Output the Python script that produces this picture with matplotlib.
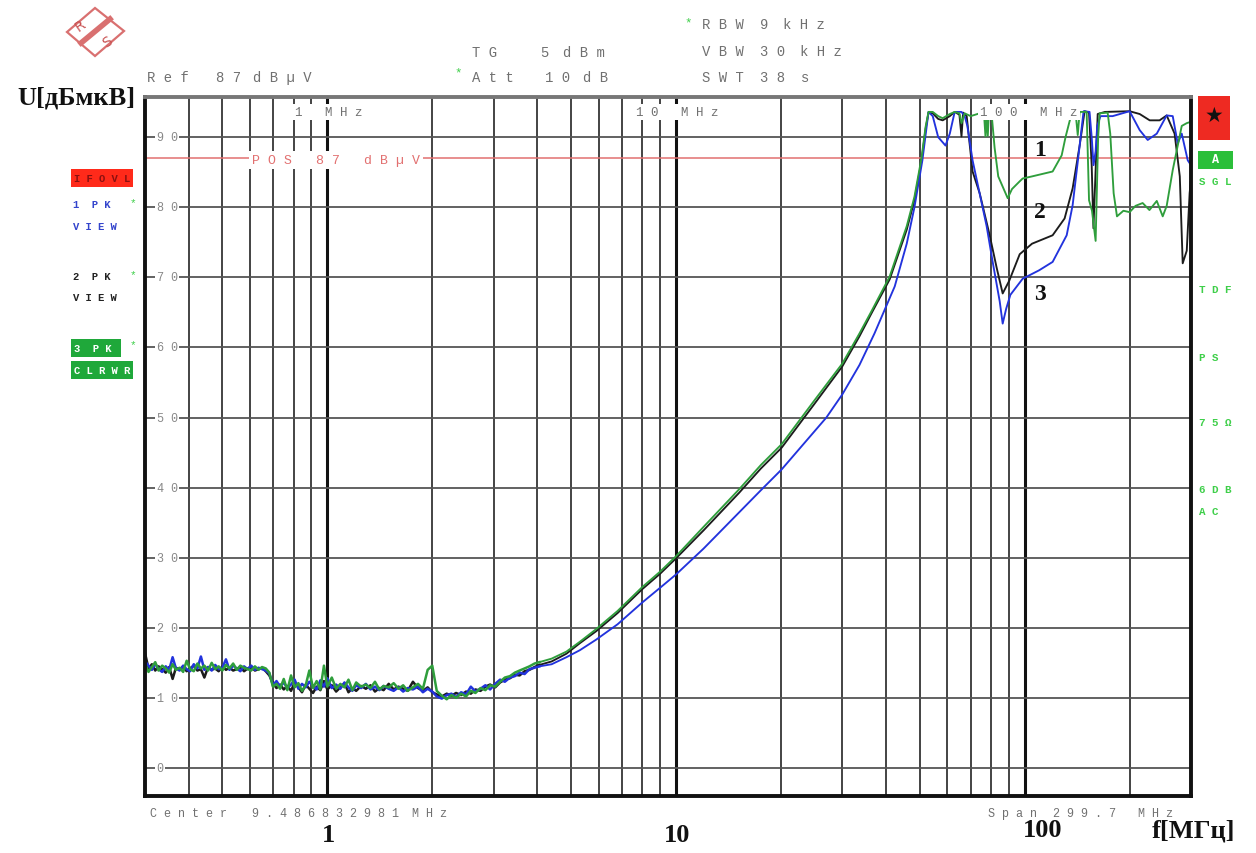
import matplotlib
matplotlib.use('Agg')
import matplotlib.pyplot as plt
from matplotlib.patches import Polygon, Rectangle

W, H = 1256, 854

# ---- low-frequency sweep (MHz), noisy floor ----
freq_lo = [0.300, 0.307, 0.314, 0.321, 0.328, 0.336, 0.344, 0.352, 0.360, 0.368,
           0.377, 0.386, 0.395, 0.404, 0.414, 0.424, 0.434, 0.444, 0.455, 0.466,
           0.477, 0.488, 0.500, 0.512, 0.524, 0.537, 0.550, 0.563, 0.577, 0.591,
           0.605, 0.620, 0.635, 0.650, 0.666, 0.682, 0.698, 0.715, 0.732, 0.750,
           0.768, 0.787, 0.806, 0.826, 0.846, 0.867, 0.888, 0.910, 0.932, 0.955,
           0.978, 1.00, 1.03, 1.06, 1.09, 1.12, 1.15, 1.18, 1.21, 1.25,
           1.29, 1.33, 1.37, 1.41, 1.45, 1.50, 1.55, 1.60, 1.65, 1.70,
           1.76, 1.82, 1.88, 1.94, 2.00, 2.06, 2.13, 2.20, 2.27, 2.34,
           2.42, 2.50, 2.58, 2.66, 2.75, 2.84, 2.93, 3.03, 3.13, 3.23,
           3.34, 3.45, 3.56, 3.68, 3.80, 3.93, 4.06]

blue_lo = [15.2, 14.6, 14.0, 14.9, 14.1, 13.7, 14.5, 14.0, 15.8, 14.2,
           13.9, 14.6, 14.1, 13.8, 14.8, 14.2, 15.9, 14.0, 14.4, 13.9,
           14.7, 14.1, 14.3, 15.5, 14.0, 14.6, 14.2, 13.8, 14.5, 14.1,
           14.6, 14.0, 14.3, 14.1, 13.9, 13.5, 11.8, 12.4, 11.6, 12.2,
           11.4, 11.9, 12.6, 11.3, 12.0, 11.5, 12.3, 11.7, 11.2, 12.5,
           11.6, 12.8, 11.4, 11.9, 11.3, 12.2, 11.5, 11.0, 11.8, 11.4,
           12.0, 11.2, 11.6, 11.1, 11.7, 11.3, 11.0, 11.5, 10.9, 11.4,
           11.2, 11.6, 10.8, 11.3, 10.9, 10.2, 9.9, 10.4, 10.6, 10.1,
           10.8, 10.5, 11.6, 10.9, 11.3, 11.8, 11.2, 12.0, 12.6, 12.3,
           12.9, 13.1, 13.6, 13.4, 14.1, 14.3, 14.5]

black_lo = [16.4, 14.2, 14.8, 13.9, 14.5, 14.1, 13.6, 14.4, 12.7, 14.3,
            14.0, 14.5, 13.8, 14.2, 14.6, 13.9, 14.1, 12.9, 14.4, 14.0,
            14.2, 13.8, 14.5, 14.0, 14.3, 13.9, 14.1, 14.4, 13.8, 14.2,
            14.4, 13.9, 14.1, 14.3, 13.8, 13.2, 12.1, 11.4, 11.9, 11.2,
            11.7, 11.0, 12.2, 11.5, 10.8, 11.9, 11.3, 10.7, 11.6, 11.1,
            12.4, 11.2, 11.8, 10.9, 11.5, 12.1, 10.8, 11.4, 11.0, 11.7,
            11.3, 11.8, 10.9, 11.4, 11.1, 12.0, 11.2, 11.6, 11.3, 11.0,
            12.3, 11.4, 11.0, 11.5, 10.8, 10.5, 10.2, 10.6, 10.3, 10.7,
            10.4, 10.9, 10.6, 11.2, 11.0, 11.6, 11.9, 11.5, 12.2, 12.6,
            12.8, 13.3, 13.2, 13.8, 14.0, 14.4, 14.7]

green_lo = [14.9, 13.7, 14.4, 15.1, 13.9, 14.6, 14.2, 13.6, 14.8, 14.0,
            14.3, 13.7, 15.3, 14.1, 13.8, 14.9, 14.2, 14.6, 13.9, 15.0,
            14.1, 14.5, 13.9, 14.7, 14.2, 14.9, 14.0, 14.6, 14.3, 14.1,
            13.9, 14.5, 14.0, 14.4, 14.2, 13.6, 11.6, 12.0, 11.3, 12.7,
            11.1, 13.2, 11.5, 12.1, 11.0, 11.8, 13.9, 11.4, 12.4, 11.2,
            14.6, 11.6, 12.9, 11.3, 12.0, 11.5, 12.6, 11.1, 12.2, 11.6,
            11.9, 11.4, 12.3, 11.2, 11.7, 11.5, 12.1, 11.3, 11.8, 11.0,
            11.5, 12.0, 11.3, 14.0, 14.6, 11.0, 10.3, 9.8, 10.4, 10.0,
            10.6, 10.2, 11.0, 10.7, 11.4, 11.1, 11.8, 11.6, 12.3, 12.9,
            13.1, 13.6, 13.9, 14.2, 14.5, 14.9, 15.1]

# ---- upper part of each trace ----
green_f = [4.4, 4.85, 5.3, 5.9, 6.8, 8.0, 9.0, 10.0, 12.0, 15.2,
           17.5, 20.1, 25.0, 30.0, 33.6, 36.4, 41.0, 45.9, 48.3, 50.6,
           52.0, 53.0, 54.5, 56.5, 58.2, 61.0, 63.0, 65.0, 65.9, 67.3,
           70.0, 74.3, 76.5, 77.2, 77.8, 78.4, 79.0, 80.5, 82.0, 84.0,
           89.4, 92.0, 96.8, 98.7, 105, 120.3, 127.7, 131.0, 134.6, 137.3,
           140, 142, 143.8, 150.6, 153, 156, 159.8, 162.5, 164.1, 173,
           176, 180, 184, 192, 200, 208, 218, 228, 239.3, 248.9,
           255.5, 265.9, 282.2, 291.7, 300]
green_v = [15.6, 16.6, 18.0, 19.8, 22.4, 25.8, 28.0, 30.2, 34.4, 39.8,
           43.2, 46.2, 52.5, 57.7, 62.0, 65.2, 70.1, 77.3, 81.5, 87.0,
           91.5, 93.6, 93.6, 93.0, 92.7, 93.3, 93.6, 93.4, 92.0, 93.4,
           93.0, 93.4, 93.2, 90.1, 93.1, 90.2, 93.6, 93.0, 88.5, 84.4,
           81.3, 82.6, 83.7, 84.1, 84.4, 85.1, 87.4, 90.0, 92.3, 93.7,
           93.5, 90.3, 93.6, 93.6, 81.0, 79.5, 75.2, 90.0, 93.4, 93.5,
           90.5, 82.0, 78.7, 79.5, 79.3, 80.2, 80.6, 79.6, 80.9, 78.7,
           80.2, 85.3, 91.6, 92.0, 92.2]

black_f = [4.4, 4.85, 5.3, 5.9, 6.8, 8.0, 9.0, 10.0, 12.0, 15.2,
           17.5, 20.1, 25.0, 30.0, 33.6, 36.4, 41.0, 45.9, 48.3, 50.6,
           52.0, 53.0, 54.5, 56.5, 58.2, 61.0, 63.0, 65.0, 65.9, 66.6,
           68.2, 70.9, 74.3, 79.3, 83.1, 86.5, 90.3, 96.8, 105, 120.3,
           130.2, 137.3, 143.8, 148.6, 153, 155.7, 157.5, 160, 162, 170,
           200, 213.8, 228.4, 243.8, 255.5, 269.2, 278.6, 284, 291.7, 297.3,
           300]
black_v = [15.2, 16.3, 17.8, 19.5, 22.1, 25.5, 27.7, 29.9, 33.9, 39.3,
           42.7, 45.7, 52.0, 57.3, 61.6, 64.9, 69.7, 76.8, 81.0, 86.6,
           91.2, 93.5, 93.4, 92.6, 92.4, 93.0, 93.6, 93.2, 90.1, 93.5,
           93.0, 85.1, 82.0, 76.1, 71.4, 67.7, 69.5, 73.3, 74.8, 76.0,
           78.4, 82.7, 88.8, 93.7, 93.5, 86.0, 77.0, 86.0, 93.3, 93.6,
           93.7, 93.3, 92.4, 92.4, 93.1, 90.5, 84.4, 72.0, 73.8, 82.0,
           84.0]

blue_f = [4.4, 4.85, 5.3, 5.9, 6.8, 8.0, 9.0, 10.0, 12.0, 15.2,
          17.5, 20.1, 27.0, 30.0, 33.6, 37.1, 42.4, 45.9, 48.3, 50.9,
          52.2, 53.0, 54.5, 56.5, 59.3, 61.0, 63.0, 65.9, 67.3, 68.5,
          70.9, 77.8, 80.9, 84.8, 86.5, 88.5, 91.0, 98.7, 110, 120.3,
          132, 137.3, 143.8, 147.6, 153.5, 155.7, 157.6, 159.8, 161.5, 165,
          178.8, 200, 213.8, 225.4, 239.3, 255.5, 265.9, 274.8, 282.2, 293.6,
          300]
blue_v = [14.8, 15.8, 16.8, 18.3, 20.5, 23.6, 25.7, 27.6, 31.3, 36.5,
          39.6, 42.6, 50.0, 53.3, 57.5, 62.0, 68.7, 74.8, 80.0, 86.7,
          91.0, 93.6, 93.0, 90.0, 88.8, 90.5, 93.6, 93.6, 93.0, 91.6,
          86.7, 77.3, 72.3, 66.6, 63.4, 65.5, 67.5, 69.8, 71.0, 72.2,
          76.0, 80.3, 88.8, 93.7, 93.6, 90.0, 86.0, 88.0, 91.6, 93.0,
          93.0, 93.7, 91.0, 89.6, 90.5, 93.1, 93.0, 89.1, 90.5, 86.7,
          86.0]

y_grid = [0, 10, 20, 30, 40, 50, 60, 70, 80, 90]
ref_level = 87

MONO = 'Liberation Mono'
SERIF = 'Liberation Serif'
GRAY = '#707070'
LGREEN = '#3fcf4a'


def px(x, y):
    return x / W, 1 - y / H


def sp(s):
    return ' '.join(s)


def ftxt(x, y, s, **kw):
    kw.setdefault('va', 'center')
    fig.text(*px(x, y), s, **kw)


fig = plt.figure(figsize=(W / 100, H / 100), dpi=100)
ax = fig.add_axes([145 / W, 1 - 797 / H, (1191 - 145) / W, (797 - 97.5) / H])
ax.set_xscale('log')
ax.set_xlim(0.3, 300)
ax.set_ylim(-4, 95.8)
ax.tick_params(which='both', length=0, labelbottom=False, labelleft=False)
for s in ax.spines.values():
    s.set_linewidth(2.8)
    s.set_color('#111')
ax.spines['top'].set_color('#777')

# grid like the analyser screen
for dec in [0.1, 1, 10, 100]:
    for k in range(1, 10):
        f = k * dec
        if 0.3 < f < 300:
            ax.axvline(f, color='#111', lw=2.2 if k == 1 else 1.1, zorder=1)
for v in y_grid:
    ax.axhline(v, color='#555', lw=1.3, zorder=1)
    ax.text(0.011, v, sp(str(v)), transform=ax.get_yaxis_transform(),
            ha='left', va='center', fontsize=8.5, family=MONO, color='#888',
            bbox=dict(fc='white', ec='none', pad=1.0), zorder=3)

ax.axhline(ref_level, color='#e27070', lw=1.1, zorder=1.5)
ftxt(252, 161, sp('POS') + '   ' + sp('87') + '   ' + sp('dBµV'), family=MONO,
     fontsize=9.5, color='#e27070', bbox=dict(fc='white', ec='none', pad=2))

# traces: noisy floor drawn a bit heavier, like the dense sweep points
traces = [(black_lo, black_f, black_v, '#1c1c1c', 2.0),
          (blue_lo, blue_f, blue_v, '#2233dd', 2.1),
          (green_lo, green_f, green_v, '#2f9e3c', 2.2)]
for lo, hf, hv, c, z in traces:
    ax.plot(freq_lo, lo, color=c, lw=1.8, zorder=z)
    ax.plot(freq_lo[-1:] + hf, lo[-1:] + hv, color=c, lw=1.35, zorder=z)

# MHz markers at top of grid
for x0, t in [(295, sp('1') + '   ' + sp('MHz')), (636, sp('10') + '   ' + sp('MHz')),
              (980, sp('100') + '   ' + sp('MHz'))]:
    ftxt(x0, 113, t, family=MONO, fontsize=9, color=GRAY,
         bbox=dict(fc='white', ec='none', pad=1.5))

# header texts
hdr = dict(family=MONO, fontsize=10, color=GRAY)
ftxt(147, 78, sp('Ref'), **hdr)
ftxt(216, 78, sp('87'), **hdr)
ftxt(253, 78, sp('dBµV'), **hdr)
ftxt(472, 53, sp('TG'), **hdr)
ftxt(540, 53, '5', **hdr)
ftxt(563, 53, sp('dBm'), **hdr)
ftxt(472, 78, sp('Att'), **hdr)
ftxt(545, 78, sp('10'), **hdr)
ftxt(583, 78, sp('dB'), **hdr)
ftxt(702, 25, sp('RBW'), **hdr)
ftxt(760, 25, '9', **hdr)
ftxt(783, 25, sp('kHz'), **hdr)
ftxt(702, 52, sp('VBW'), **hdr)
ftxt(760, 52, sp('30'), **hdr)
ftxt(800, 52, sp('kHz'), **hdr)
ftxt(702, 78, sp('SWT'), **hdr)
ftxt(760, 78, sp('38'), **hdr)
ftxt(801, 78, 's', **hdr)
for x0, y0 in [(458, 73), (688, 23)]:
    ftxt(x0, y0, '*', family=MONO, fontsize=9, color=LGREEN, ha='center')

# footer texts
ftr = dict(family=MONO, fontsize=8.5, color=GRAY)
ftxt(150, 814, sp('Center'), **ftr)
ftxt(252, 814, sp('9.486832981'), **ftr)
ftxt(412, 814, sp('MHz'), **ftr)
ftxt(988, 814, sp('Span'), **ftr)
ftxt(1053, 814, sp('299.7'), **ftr)
ftxt(1138, 814, sp('MHz'), **ftr)

big = dict(family=SERIF, fontweight='bold', fontsize=19, color='#111')
ftxt(328, 836, '1', ha='center', **big)
ftxt(677, 836, '10', ha='center', **big)
ftxt(1043, 831, '100', ha='center', **big)
ftxt(1193, 831, 'f[МГц]', ha='center', **big)
ftxt(76, 98, 'U[дБмкВ]', ha='center', **big)

for y0, t in [(150, '1'), (213, '2'), (295, '3')]:
    ftxt(1040, y0, t, ha='center', family=SERIF, fontweight='bold', fontsize=17, color='#111')


# left status column
def box(x0, y0, x1, y1, color):
    fig.patches.append(Rectangle(px(x0, y1), (x1 - x0) / W, (y1 - y0) / H,
                                 transform=fig.transFigure, fc=color, ec='none'))


lab = dict(family=MONO, fontsize=7.6, fontweight='bold')
box(71, 170, 133, 188, '#ff2a1a')
ftxt(74, 179, sp('IFOVL'), color='#8a1010', **lab)
ftxt(73, 205, sp('1') + '  ' + sp('PK'), color='#3344cc', **lab)
ftxt(73, 227, sp('VIEW'), color='#3344cc', **lab)
ftxt(73, 277, sp('2') + '  ' + sp('PK'), color='#222', **lab)
ftxt(73, 298, sp('VIEW'), color='#222', **lab)
box(71, 340, 121, 358, '#1fa83a')
ftxt(74, 349, sp('3') + '  ' + sp('PK'), color='white', **lab)
box(71, 362, 133, 380, '#1fa83a')
ftxt(74, 371, sp('CLRWR'), color='white', **lab)
for y0 in [205, 277, 347]:
    ftxt(133, y0 - 2, '*', family=MONO, fontsize=8, color=LGREEN, ha='center')

# right status column
box(1198, 97, 1230, 141, '#ee2a22')
ftxt(1214, 116, '★', family='DejaVu Sans', fontsize=15, color='#111', ha='center')
box(1198, 152, 1233, 170, '#2bbf3a')
ftxt(1215, 160, 'A', family=MONO, fontsize=8.5, fontweight='bold', color='white', ha='center')
for y0, t in [(182, 'SGL'), (290, 'TDF'), (358, 'PS'), (423, '75Ω'), (490, '6DB'), (512, 'AC')]:
    ftxt(1199, y0, sp(t), family=MONO, fontsize=7.8, fontweight='bold', color=LGREEN)

# R&S logo
diamond = [px(95, 9), px(124, 32), px(95, 57), px(67, 33)]
fig.patches.append(Polygon(diamond, closed=True, transform=fig.transFigure,
                           fc='none', ec='#d97070', lw=1.6))
fig.add_artist(plt.Line2D([110 / W, 81 / W], [1 - 20 / H, 1 - 44 / H],
                          transform=fig.transFigure, color='#d97070', lw=4))
ftxt(80, 26, 'R', family='DejaVu Sans', fontsize=10, color='#c85050', ha='center', rotation=35)
ftxt(107, 42, 'S', family='DejaVu Sans', fontsize=10, color='#c85050', ha='center', rotation=35)

fig.savefig('out.png', dpi=100)
